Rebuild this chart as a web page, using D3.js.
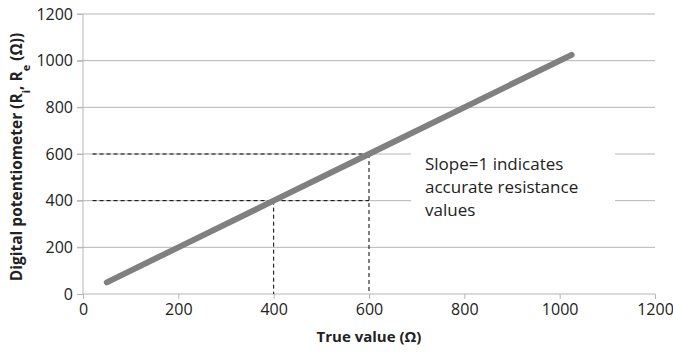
<!DOCTYPE html>
<html>
<head>
<meta charset="utf-8">
<script src="https://d3js.org/d3.v7.min.js"></script>
<style>
  body { margin: 0; background: #fff; }
  svg text { font-family: "Open Sans", "Noto Sans", sans-serif; fill: #222; }
</style>
</head>
<body>
<div id="chart"></div>
<script>
  // data
  const trueValue = [50, 200, 400, 600, 800, 1025];
  const measured  = [50, 200, 400, 600, 800, 1025];
  const xTicks = [0, 200, 400, 600, 800, 1000, 1200];
  const yTicks = [0, 200, 400, 600, 800, 1000, 1200];
  // reference guides (dashed)
  const guides = [400, 600];
  const guideStart = 20;
  const note = ["Slope=1 indicates", "accurate resistance", "values"];

  const W = 673, H = 357;
  const margin = {top: 14, right: 18, bottom: 63, left: 83},
    width = W - margin.left - margin.right,
    height = H - margin.top - margin.bottom;

  const svg = d3.select("#chart").append("svg")
    .attr("width", W).attr("height", H);
  const g = svg.append("g")
    .attr("transform", `translate(${margin.left}, ${margin.top})`);

  const x = d3.scaleLinear().domain([0, 1200]).range([0, width]);
  const y = d3.scaleLinear().domain([0, 1200]).range([height, 0]);

  // gridlines
  g.append("g").selectAll("line")
    .data(yTicks.filter(d => d > 0))
    .join("line")
    .attr("x1", -6).attr("x2", width)
    .attr("y1", d => y(d)).attr("y2", d => y(d))
    .attr("stroke", "#b5b5b5").attr("stroke-width", 1);

  // axes
  const xAxis = g.append("g")
    .attr("transform", `translate(0, ${height})`)
    .call(d3.axisBottom(x).tickValues(xTicks).tickFormat(d3.format("d")).tickSize(5).tickPadding(5));
  const yAxis = g.append("g")
    .call(d3.axisLeft(y).tickValues(yTicks).tickFormat(d3.format("d")).tickSize(6).tickPadding(4));
  [xAxis, yAxis].forEach(a => {
    a.select(".domain").attr("stroke", "#b5b5b5");
    a.selectAll(".tick line").attr("stroke", "#b5b5b5");
    a.selectAll(".tick text")
      .style("font-size", "16px")
      .style("font-family", "'Open Sans', sans-serif")
      .attr("fill", "#222");
  });
  xAxis.select(".domain").attr("d", `M0,0H${width}`);
  yAxis.select(".domain").attr("d", `M0,${height}V0`);

  // dashed guides
  const dash = g.append("g")
    .attr("stroke", "#000").attr("stroke-width", 1)
    .attr("stroke-dasharray", "4,3").attr("fill", "none");
  guides.forEach(v => {
    dash.append("line")
      .attr("x1", x(guideStart)).attr("x2", x(600))
      .attr("y1", y(v)).attr("y2", y(v));
    dash.append("line")
      .attr("x1", x(v)).attr("x2", x(v))
      .attr("y1", y(v)).attr("y2", y(0));
  });

  // main line
  const line = d3.line().x(d => x(d[0])).y(d => y(d[1]));
  g.append("path")
    .datum(d3.zip(trueValue, measured))
    .attr("d", line)
    .attr("fill", "none")
    .attr("stroke", "#808080")
    .attr("stroke-width", 6)
    .attr("stroke-linecap", "round");

  // annotation box
  g.append("rect")
    .attr("x", 328).attr("y", 128)
    .attr("width", 204).attr("height", 100)
    .attr("fill", "#fff");
  g.append("text")
    .attr("x", 342).attr("y", 156)
    .style("font-size", "17px")
    .selectAll("tspan")
    .data(note)
    .join("tspan")
    .attr("x", 342)
    .attr("dy", (d, i) => i === 0 ? 0 : 23)
    .text(d => d);

  // axis titles
  svg.append("text")
    .attr("x", margin.left + width / 2).attr("y", 342)
    .attr("text-anchor", "middle")
    .style("font-size", "15px").style("font-weight", "bold")
    .text("True value (Ω)");

  const yl = svg.append("text")
    .attr("transform", `translate(22, ${margin.top + height / 2 + 3}) rotate(-90)`)
    .attr("text-anchor", "middle")
    .style("font-size", "15.5px").style("font-weight", "bold");
  yl.append("tspan").text("Digital potentiometer (R");
  yl.append("tspan").attr("baseline-shift", "sub").style("font-size", "11px").text("i");
  yl.append("tspan").text(", R");
  yl.append("tspan").attr("baseline-shift", "sub").style("font-size", "11px").text("e");
  yl.append("tspan").text(" (Ω))");
</script>
</body>
</html>
